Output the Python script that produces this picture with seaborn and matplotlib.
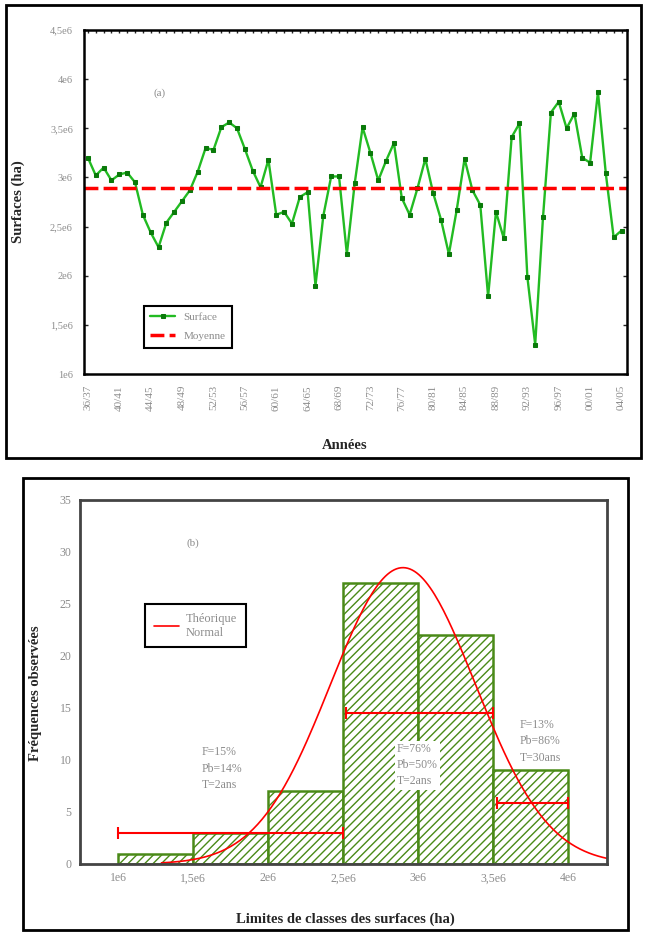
import numpy as np
import pandas as pd
import seaborn as sns
import matplotlib.pyplot as plt
from matplotlib.patches import Rectangle

# (a) surfaces par campagne, en millions d'ha
surface_mha = [3.20, 3.02, 3.10, 2.97, 3.03, 3.05, 2.95, 2.62, 2.44, 2.29,
               2.54, 2.65, 2.76, 2.87, 3.06, 3.30, 3.28, 3.51, 3.56, 3.50,
               3.29, 3.07, 2.90, 3.18, 2.62, 2.65, 2.53, 2.80, 2.85, 1.90,
               2.61, 3.01, 3.01, 2.22, 2.94, 3.51, 3.25, 2.97, 3.17, 3.35,
               2.79, 2.62, 2.89, 3.19, 2.84, 2.57, 2.22, 2.67, 3.19, 2.87,
               2.72, 1.79, 2.65, 2.38, 3.41, 3.55, 1.99, 1.30, 2.60, 3.66,
               3.77, 3.50, 3.65, 3.20, 3.15, 3.87, 3.04, 2.39, 2.46]
moyenne = 2.89e6
annee_ticks = ["36/37", "40/41", "44/45", "48/49", "52/53", "56/57", "60/61",
               "64/65", "68/69", "72/73", "76/77", "80/81", "84/85", "88/89",
               "92/93", "96/97", "00/01", "04/05"]
y_ticks_a = [1e6, 1.5e6, 2e6, 2.5e6, 3e6, 3.5e6, 4e6, 4.5e6]
y_labels_a = ["1e6", "1,5e6", "2e6", "2,5e6", "3e6", "3,5e6", "4e6", "4,5e6"]

# (b) histogramme des classes
class_edges = [1e6, 1.5e6, 2e6, 2.5e6, 3e6, 3.5e6, 4e6]
frequences = [1, 3, 7, 27, 22, 9]
x_labels_b = ["1e6", "1,5e6", "2e6", "2,5e6", "3e6", "3,5e6", "4e6"]
mu, sigma = 2.9e6, 0.483e6
err_y = [3.0, 14.5, 5.9]
err_lo = [1.0e6, 2.52e6, 3.53e6]
err_hi = [2.5e6, 3.5e6, 4.0e6]
notes = ["F=15%\nPb=14%\nT=2ans", "F=76%\nPb=50%\nT=2ans", "F=13%\nPb=86%\nT=30ans"]
notes_x = [1.56e6, 2.86e6, 3.68e6]
notes_y = [11.3, 11.6, 13.9]

sns.set_style("white")
plt.rcParams['font.family'] = ['Liberation Serif', 'DejaVu Serif']
plt.rcParams['hatch.linewidth'] = 1.0
grey = '#8c8c8c'
lgreen = '#22bb22'
dgreen = '#0a7a0a'
bgreen = '#4a8a18'

fig = plt.figure(figsize=(6.47, 9.32), dpi=100)
fig.add_artist(Rectangle((6/647, 1-458/932), 635/647, 453/932, transform=fig.transFigure,
                         fill=False, edgecolor='black', lw=2))
fig.add_artist(Rectangle((23/647, 1-930/932), 605/647, 452/932, transform=fig.transFigure,
                         fill=False, edgecolor='black', lw=2))

# ---- (a)
ax1 = fig.add_axes([84/647, 1-374/932, 543/647, 344/932])
df = pd.DataFrame({'idx': np.arange(len(surface_mha)),
                   'surface': np.array(surface_mha) * 1e6})
sns.lineplot(data=df, x='idx', y='surface', ax=ax1, color=lgreen, lw=1.7,
             marker='s', markersize=3.5, markerfacecolor=dgreen,
             markeredgecolor=dgreen, label='Surface')
ax1.axhline(moyenne, color='red', ls=(0, (4, 1.5)), lw=2.5, label='Moyenne')
ax1.set_xlim(-0.5, 68.7)
ax1.set_ylim(1e6, 4.5e6)
ax1.set_xticks(np.arange(0, len(surface_mha), 4))
ax1.set_xticklabels(annee_ticks, rotation=90, color=grey, fontsize=8)
ax1.set_xticks(np.arange(len(surface_mha)), minor=True)
ax1.tick_params(axis='x', which='both', bottom=False, top=True, labelbottom=True,
                direction='in', length=2.5, width=1, pad=8)
ax1.set_yticks(y_ticks_a)
ax1.set_yticklabels(y_labels_a, color=grey, fontsize=7.5)
ax1.tick_params(axis='y', left=True, right=True, direction='in', length=3, width=1, pad=8)
for s in ax1.spines.values():
    s.set_color('black')
    s.set_linewidth(1.8)
ax1.set_xlabel('Années', fontsize=10.5, fontweight='bold')
ax1.set_ylabel('Surfaces (ha)', fontsize=10.5, fontweight='bold')
ax1.xaxis.set_label_coords(0.48, -0.19)
ax1.yaxis.set_label_coords(-0.109, 0.5)
ax1.text(0.14, 0.81, '(a)', transform=ax1.transAxes, color=grey, fontsize=8, ha='center')
leg1 = ax1.legend(loc='upper left', bbox_to_anchor=(0.110, 0.198), borderaxespad=0,
                  fancybox=False, framealpha=1, edgecolor='black', fontsize=8,
                  handlelength=2.2, borderpad=0.6, labelspacing=0.8)
leg1.get_frame().set_linewidth(1.5)
for t in leg1.get_texts():
    t.set_color(grey)

# ---- (b)
ax2 = fig.add_axes([80/647, 1-864/932, 527/647, 364/932])
centres = [(a + b) / 2 for a, b in zip(class_edges[:-1], class_edges[1:])]
sns.histplot(x=centres, weights=frequences, bins=class_edges, ax=ax2,
             facecolor='white', edgecolor=bgreen, linewidth=1.8, hatch='////', alpha=1)
for p in ax2.patches:
    p.set_edgecolor(bgreen)

xs = np.linspace(1.29e6, 4.26e6, 200)
courbe = sum(frequences) * 0.5e6 * np.exp(-0.5 * ((xs - mu) / sigma) ** 2) / (sigma * np.sqrt(2 * np.pi))
sns.lineplot(x=xs, y=courbe, ax=ax2, color='red', lw=1.2, label='Théorique\nNormal')

centres_err = [(a + b) / 2 for a, b in zip(err_lo, err_hi)]
demi = [(b - a) / 2 for a, b in zip(err_lo, err_hi)]
ax2.errorbar(centres_err, err_y, xerr=demi, fmt='none', ecolor='red', elinewidth=1.5,
             capsize=4.5, capthick=1.5)

for tx, x, y in zip(notes, notes_x, notes_y):
    bb = dict(facecolor='white', edgecolor='none', pad=1.5) if x == notes_x[1] else None
    ax2.text(x, y, tx, color=grey, fontsize=8.5, va='top', ha='left',
             linespacing=1.45, bbox=bb)

ax2.set_xlim(0.747e6, 4.26e6)
ax2.set_ylim(0, 35)
ax2.set_xticks(class_edges)
ax2.set_xticklabels(x_labels_b, color=grey, fontsize=8.5)
ax2.set_yticks(np.arange(0, 36, 5))
ax2.set_yticklabels([str(v) for v in range(0, 36, 5)], color=grey, fontsize=8.5)
ax2.tick_params(length=0, pad=6)
for s in ax2.spines.values():
    s.set_color('#444444')
    s.set_linewidth(2)
ax2.set_xlabel('Limites de classes des surfaces (ha)', fontsize=10.5, fontweight='bold')
ax2.set_ylabel('Fréquences observées', fontsize=10.5, fontweight='bold')
ax2.xaxis.set_label_coords(0.503, -0.132)
ax2.yaxis.set_label_coords(-0.072, 0.47)
ax2.text(0.214, 0.875, '(b)', transform=ax2.transAxes, color=grey, fontsize=8, ha='center')
leg2 = ax2.legend(loc='upper left', bbox_to_anchor=(0.123, 0.714), borderaxespad=0,
                  fancybox=False, framealpha=1, edgecolor='black', fontsize=9,
                  handlelength=2.0, borderpad=0.7, handletextpad=0.6)
leg2.get_frame().set_linewidth(1.5)
for t in leg2.get_texts():
    t.set_color(grey)

fig.savefig('out.png', dpi=100)
